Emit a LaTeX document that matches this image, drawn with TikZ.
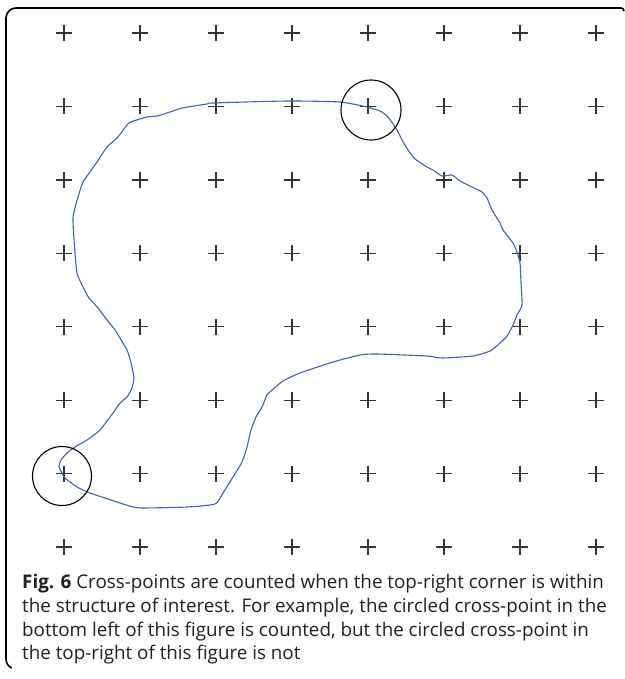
\documentclass[tikz,border=0pt]{standalone}
\usepackage{fontspec}
\setmainfont{Open Sans}
\definecolor{curveblue}{HTML}{3F62AA}
\definecolor{crossgray}{HTML}{333333}
\begin{document}
\begin{tikzpicture}[x=1pt,y=-1pt,
  crossmark/.style={draw=crossgray,line width=1.3pt},
  framebox/.style={draw=black,line width=1.6pt},
  outline/.style={draw=curveblue,line width=1.1pt,line join=round},
  ring/.style={draw=black,line width=1.1pt},
  capline/.style={anchor=base west,inner sep=0pt,font=\fontsize{18.8}{22}\selectfont,text=black!88}]
\useasboundingbox (0,0) rectangle (624,679);
% frame
\draw[framebox] (624,11) arc[start angle=0,end angle=-90,radius=3] -- (16,8) arc[start angle=270,end angle=180,radius=10] -- (6,659) arc[start angle=180,end angle=115,radius=10];
% crosses
\foreach \i in {0,...,7}{
  \foreach \j in {0,...,7}{
    \draw[crossmark] ({64+76*\i-8},{33+73.43*\j}) -- ++(16,0);
    \draw[crossmark] ({64+76*\i},{33+73.43*\j-8}) -- ++(0,16);
  }
}
% structure outline
\draw[outline] plot[smooth cycle,tension=0.35] coordinates {
(129,123) (147,117) (157,116) (170,112) (182,108) (207,104) (213,103) (287,101)
(340,102) (367,107) (380,111) (388,117) (397,130) (402,140) (408,150) (415,159)
(427,167) (433,170) (442,176) (452,175) (460,181) (472,187) (482,192) (487,198)
(492,210) (500,223) (503,230) (513,243) (517,252) (520,263) (521,283) (522,305)
(517,315) (513,325) (507,336) (500,343) (490,351) (473,356) (442,358) (427,356)
(377,354) (360,355) (333,362) (300,373) (283,381) (271,391) (267,395) (262,407)
(256,417) (251,430) (247,447) (242,462) (233,477) (223,493) (215,504) (187,507)
(143,508) (133,507) (117,502) (90,493) (77,487) (65,478) (62,473) (59,467)
(61,460) (67,453) (75,447) (87,440) (100,430) (113,413) (120,403) (127,397)
(132,388) (134,378) (131,363) (127,350) (115,330) (107,320) (98,308) (89,298)
(82,285) (77,273) (75,253) (73,218) (78,197) (83,182) (90,172) (97,162)
(107,147) (118,137)};
% circles
\draw[ring] (371,110) circle[radius=30];
\draw[ring] (62,476) circle[radius=29.5];
% caption
\node[capline] (cap1) at (22,588) {\textbf{Fig. 6} Cross-points are counted when the top-right corner is within};
\node[capline] (cap2) at (22,612) {the structure of interest. For example, the circled cross-point in the};
\node[capline] (cap3) at (22,636) {bottom left of this figure is counted, but the circled cross-point in};
\node[capline] (cap4) at (22,659) {the top-right of this figure is not};
\end{tikzpicture}
\end{document}
